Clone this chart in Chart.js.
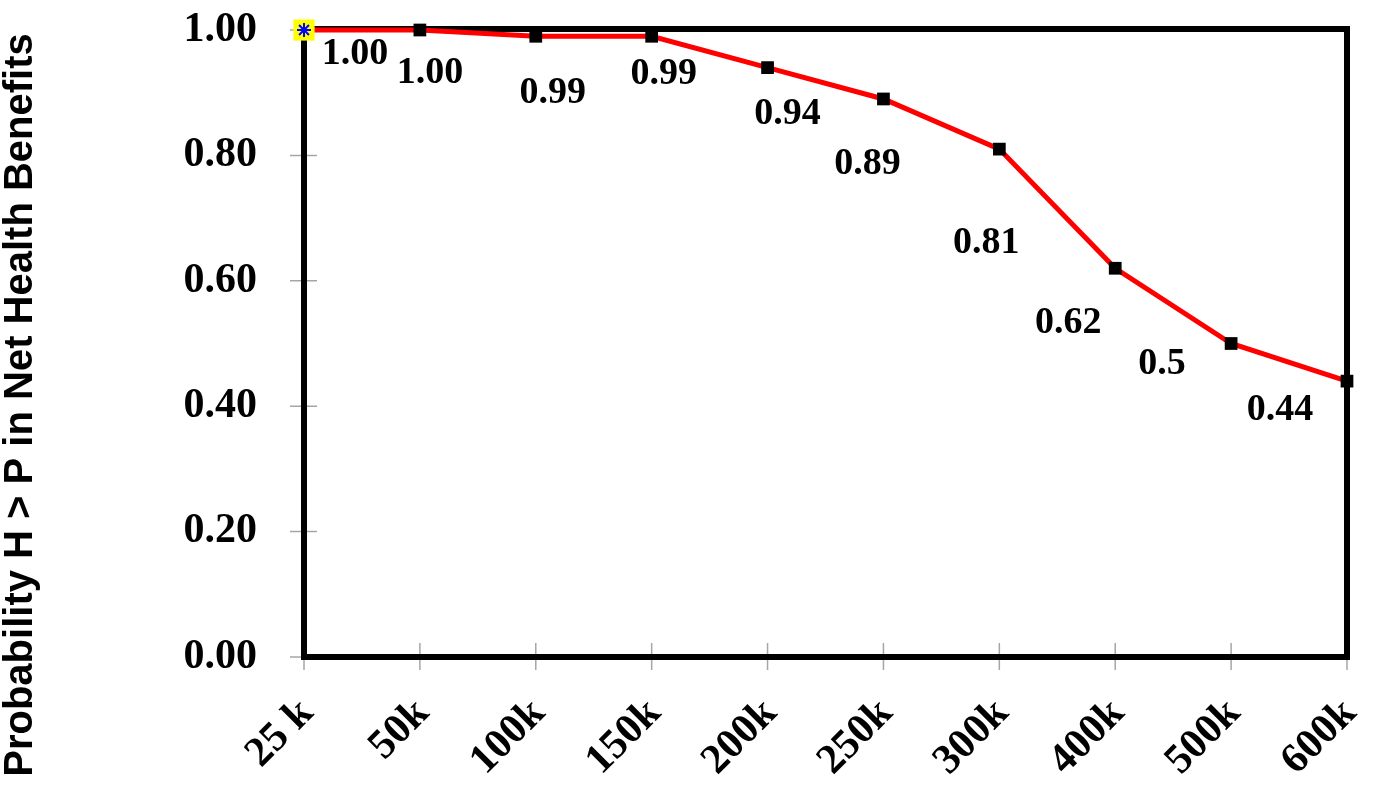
<!DOCTYPE html>
<html>
<head>
<meta charset="utf-8">
<script src="https://cdn.jsdelivr.net/npm/chart.js@4/dist/chart.umd.min.js"></script>
<style>
  html, body { margin: 0; padding: 0; background: #fff; }
  #wrap { width: 1373px; height: 785px; position: relative; }
</style>
</head>
<body>
<div id="wrap"><canvas id="chart-prob"></canvas></div>
<script>
const thresholds  = ['25 k', '50k', '100k', '150k', '200k', '250k', '300k', '400k', '500k', '600k'];
const probability = [1.00, 1.00, 0.99, 0.99, 0.94, 0.89, 0.81, 0.62, 0.50, 0.44];
const pointTexts  = ['1.00', '1.00', '0.99', '0.99', '0.94', '0.89', '0.81', '0.62', '0.5', '0.44'];
const yTicks      = [0, 0.2, 0.4, 0.6, 0.8, 1.0];
const yTitle      = 'Probability H > P in Net Health Benefits';

// where each value label sits relative to its point (px)
const labelShift = [[51, 24], [10, 43], [17, 57], [12, 38], [20, 47], [-16, 65], [-13, 94], [-47, 55], [-69, 21], [-67, 29]];

const SERIF = '"Liberation Serif", "Times New Roman", Times, serif';
const SANS  = '"Liberation Sans", Arial, Helvetica, sans-serif';

/* frame + crossing tick marks + axis title */
const framePlugin = {
  id: 'frame',
  beforeDatasetsDraw(chart) {
    const { ctx, chartArea: a, scales: { x, y } } = chart;
    ctx.save();
    ctx.strokeStyle = '#a6a6a6';
    ctx.lineWidth = 1.5;
    ctx.beginPath();
    thresholds.forEach((_, i) => {
      const px = x.getPixelForValue(i);
      ctx.moveTo(px, a.bottom - 14);
      ctx.lineTo(px, a.bottom + 13);
    });
    yTicks.forEach(v => {
      const py = y.getPixelForValue(v);
      ctx.moveTo(a.left - 14, py);
      ctx.lineTo(a.left + 13, py);
    });
    ctx.stroke();
    ctx.strokeStyle = '#000';
    ctx.lineWidth = 6;
    ctx.strokeRect(a.left, a.top - 1, a.right - a.left, a.bottom - a.top + 1);
    ctx.restore();
  },
  afterDraw(chart) {
    const { ctx } = chart;
    ctx.save();
    ctx.translate(32, 405);
    ctx.rotate(-Math.PI / 2);
    ctx.font = `bold 40px ${SANS}`;
    ctx.fillStyle = '#000';
    ctx.textAlign = 'center';
    ctx.textBaseline = 'alphabetic';
    ctx.fillText(yTitle, 0, 0);
    ctx.restore();
  },
};

/* value labels next to the points */
const labelPlugin = {
  id: 'valueLabels',
  afterDatasetsDraw(chart) {
    const { ctx } = chart;
    const meta = chart.getDatasetMeta(0);
    ctx.save();
    ctx.font = `bold 38px ${SERIF}`;
    ctx.fillStyle = '#000';
    ctx.textAlign = 'center';
    ctx.textBaseline = 'middle';
    meta.data.forEach((pt, i) => {
      const [dx, dy] = labelShift[i];
      ctx.fillText(pointTexts[i], pt.x + dx, pt.y + dy);
    });
    ctx.restore();
  },
};

function renderChart() {
  const ctx = document.getElementById('chart-prob');
  new Chart(ctx, {
    type: 'line',
    data: {
      labels: thresholds,
      datasets: [{
        data: probability,
        order: 1,
        borderColor: '#ff0000',
        borderWidth: 5,
        tension: 0,
        pointStyle: 'rect',
        pointRadius: probability.map((_, i) => i === 0 ? 15 : 9),
        pointBackgroundColor: probability.map((_, i) => i === 0 ? '#ffff00' : '#000'),
        pointBorderColor: probability.map((_, i) => i === 0 ? '#ffff00' : '#000'),
        pointBorderWidth: 0,
        clip: false,
      }, {
        data: probability.map((v, i) => i === 0 ? v : null),
        order: 0,
        showLine: false,
        pointStyle: 'star',
        pointRadius: 7,
        pointBorderColor: '#0000ff',
        pointBorderWidth: 2,
        clip: false,
      }],
    },
    options: {
      responsive: true,
      maintainAspectRatio: false,
      animation: false,
      layout: { padding: { top: 30, right: 26, left: 0, bottom: 0 } },
      plugins: { legend: { display: false }, tooltip: { enabled: false } },
      scales: {
        x: {
          offset: false,
          grid: { display: false },
          border: { display: false },
          afterFit: s => { s.height = 128; s.paddingLeft = 0; s.paddingRight = 0; },
          ticks: {
            color: '#000',
            font: { family: SERIF, size: 42, weight: 'bold' },
            minRotation: 45, maxRotation: 45,
            padding: 24,
            labelOffset: 3,
            autoSkip: false,
          },
        },
        y: {
          min: 0, max: 1,
          grid: { display: false },
          border: { display: false },
          afterFit: s => { s.width = 304; s.paddingTop = 0; s.paddingBottom = 0; },
          afterBuildTicks: s => { s.ticks = yTicks.map(v => ({ value: v })); },
          ticks: {
            color: '#000',
            font: { family: SERIF, size: 42, weight: 'bold' },
            padding: 39,
            callback: v => Number(v).toFixed(2),
          },
        },
      },
    },
    plugins: [framePlugin, labelPlugin],
  });
}

document.addEventListener('DOMContentLoaded', renderChart);
</script>
</body>
</html>
